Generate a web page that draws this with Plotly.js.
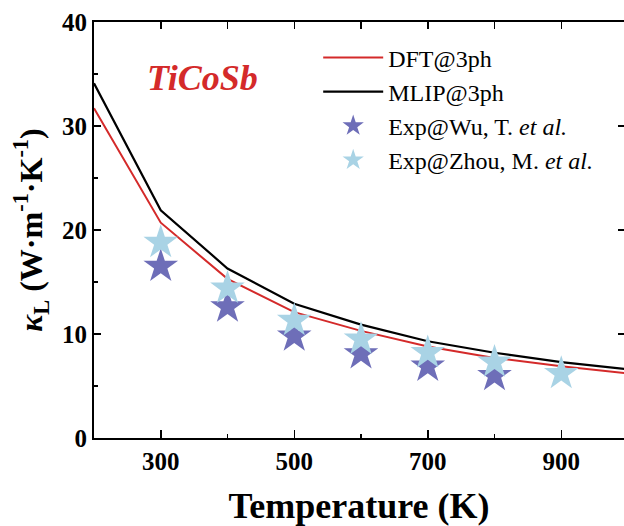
<!DOCTYPE html>
<html><head><meta charset="utf-8">
<script src="https://cdn.plot.ly/plotly-3.0.1.min.js"></script>
<style>body{margin:0;background:#fff}#c{width:624px;height:526px}</style>
</head><body><div id="c"></div>
<script>
var tempLine = [200, 300, 400, 500, 600, 700, 800, 900, 1000];
var dft3ph  = [31.7, 20.7, 15.3, 12.1, 10.3, 8.8, 7.7, 6.9, 6.2];
var mlip3ph = [34.1, 21.9, 16.3, 12.9, 10.9, 9.3, 8.2, 7.3, 6.6];
var tempWu = [300, 400, 500, 600, 700, 800];
var expWu  = [16.5, 12.6, 9.8, 8.1, 6.9, 6.0];
var tempZhou = [300, 400, 500, 600, 700, 800, 900];
var expZhou  = [18.8, 14.4, 11.3, 9.5, 8.2, 7.3, 6.2];
var xTicks = [300, 500, 700, 900];
var xTopTicks = [300, 400, 500, 600, 700, 800, 900];
var yTicks = [0, 10, 20, 30, 40];
var yRightTicks = [10, 20, 30];

var serif = '"Liberation Serif"';
var traces = [
  {x: tempLine, y: dft3ph, mode: 'lines', name: 'DFT@3ph', line: {color: '#d42a2a', width: 2}},
  {x: tempLine, y: mlip3ph, mode: 'lines', name: 'MLIP@3ph', line: {color: '#000000', width: 2.2}},
  {x: tempWu, y: expWu, mode: 'markers', name: 'Exp@Wu, T. <i>et al.</i>',
   marker: {symbol: 'star', size: 26, color: '#6e6eb8', line: {width: 0}}},
  {x: tempZhou, y: expZhou, mode: 'markers', name: 'Exp@Zhou, M. <i>et al.</i>',
   marker: {symbol: 'star', size: 26, color: '#a9d3e5', line: {width: 0}}},
  {x: [], y: [], xaxis: 'x2', yaxis: 'y2', mode: 'markers', showlegend: false, hoverinfo: 'skip'}
];
var xr = [200, 994];
var layout = {
  width: 624, height: 526,
  margin: {l: 94, r: 0, t: 22, b: 88},
  paper_bgcolor: '#ffffff', plot_bgcolor: '#ffffff',
  showlegend: true,
  legend: {x: 0.423, y: 0.968, xanchor: 'left', yanchor: 'top', bgcolor: 'rgba(0,0,0,0)',
           font: {family: serif, size: 24, color: '#000'}, tracegroupgap: 0, itemwidth: 60},
  xaxis: {
    range: xr, tickvals: xTicks, ticktext: xTicks.map(String),
    showgrid: false, zeroline: false, showline: true, linecolor: '#000', linewidth: 2,
    ticks: 'inside', ticklen: 8, tickwidth: 1.5, tickcolor: '#000',
    minor: {tickvals: [400, 600, 800], ticks: 'inside', ticklen: 4, tickwidth: 1.5, tickcolor: '#000'},
    tickfont: {family: serif, size: 25, color: '#000', weight: 'bold'},
    title: {text: '<b>Temperature (K)</b>', font: {family: serif, size: 36, color: '#000'}, standoff: 19}
  },
  xaxis2: {
    range: xr, overlaying: 'x', side: 'top', anchor: 'y',
    tickvals: xTopTicks, showticklabels: false,
    showgrid: false, zeroline: false, showline: true, linecolor: '#000', linewidth: 2,
    ticks: 'inside', ticklen: 7, tickwidth: 1.5, tickcolor: '#000'
  },
  yaxis: {
    range: [0, 40], tickvals: yTicks, ticktext: yTicks.map(String),
    showgrid: false, zeroline: false, showline: true, linecolor: '#000', linewidth: 2,
    ticks: 'inside', ticklen: 7, tickwidth: 1.5, tickcolor: '#000',
    minor: {dtick: 5, ticks: 'inside', ticklen: 4, tickwidth: 1.5, tickcolor: '#000'},
    tickfont: {family: serif, size: 25, color: '#000', weight: 'bold'},
    title: {text: '<b><i>κ</i><sub>L</sub> (W·m<sup>-1</sup>·K<sup>-1</sup>)</b>',
            font: {family: serif, size: 32, color: '#000'}, standoff: 10}
  },
  yaxis2: {
    range: [0, 40], overlaying: 'y', side: 'right', anchor: 'x',
    tickvals: yRightTicks, showticklabels: false,
    showgrid: false, zeroline: false, showline: false,
    ticks: 'inside', ticklen: 6, tickwidth: 1.5, tickcolor: '#000'
  },
  annotations: [{
    xref: 'paper', yref: 'paper', x: 0.204, y: 0.865, xanchor: 'center', yanchor: 'middle',
    text: '<b><i>TiCoSb</i></b>', showarrow: false,
    font: {family: serif, size: 36, color: '#d42a2a'}
  }]
};
Plotly.newPlot('c', traces, layout, {displayModeBar: false, staticPlot: true});
</script></body></html>
